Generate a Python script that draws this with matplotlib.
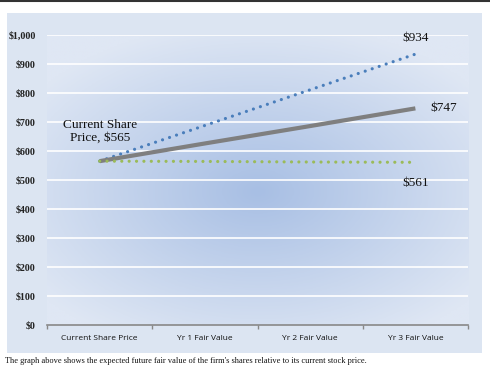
import numpy as np
import matplotlib
matplotlib.use("Agg")
import matplotlib.pyplot as plt
from matplotlib.colors import LinearSegmentedColormap
from matplotlib.patches import Rectangle
from matplotlib.lines import Line2D

# data
categories = ["Current Share Price", "Yr 1 Fair Value", "Yr 2 Fair Value", "Yr 3 Fair Value"]
high_case = [565, 688, 811, 934]
base_case = [565, 626, 686, 747]
low_case = [565, 564, 562, 561]
y_ticks = [0, 100, 200, 300, 400, 500, 600, 700, 800, 900, 1000]
y_labels = ["$0", "$100", "$200", "$300", "$400", "$500", "$600", "$700", "$800", "$900", "$1,000"]
caption = "The graph above shows the expected future fair value of the firm's shares relative to its current stock price."

W, H = 490, 369
fig = plt.figure(figsize=(W / 100, H / 100), dpi=100)
fig.patch.set_facecolor("white")

# outer chart box
fig.patches.append(Rectangle((7 / W, 1 - 353 / H), 475 / W, 340 / H,
                             transform=fig.transFigure, facecolor="#dce5f2",
                             edgecolor="none", zorder=-5))
# top border line
fig.lines.append(Line2D([0, 1], [1 - 1 / H, 1 - 1 / H], transform=fig.transFigure,
                        color="#333333", lw=1.5))

ax = fig.add_axes([47 / W, 1 - 325 / H, 421 / W, 290 / H])
ax.set_zorder(2)
ax.set_xlim(-0.5, 3.5)
ax.set_ylim(0, 1000)

# radial gradient background
gx, gy = np.meshgrid(np.linspace(-1, 1, 300), np.linspace(-1, 1, 200))
r = np.sqrt((gx * 1.0) ** 2 + ((gy + 0.08) * 1.1) ** 2)
r = np.clip(r / 1.3, 0, 1)
cmap = LinearSegmentedColormap.from_list("bg", ["#a8bfe4", "#dfe7f4"])
ax.imshow(r, cmap=cmap, extent=[-0.5, 3.5, 0, 1000], aspect="auto", zorder=0,
          origin="lower")

ax.set_facecolor("none")
for y in y_ticks[1:]:
    ax.axhline(y, color="white", lw=1.2, zorder=1)

x = np.arange(len(categories))
ax.plot(x, high_case, color="#4a7ebb", lw=2.3, linestyle=(0, (0.01, 2.3)),
        dash_capstyle="round", zorder=3)
ax.plot(x, base_case, color="#7f7f7f", lw=3.0, solid_capstyle="butt", zorder=3)
ax.plot(x, low_case, color="#9bbb59", lw=2.3, linestyle=(0, (0.01, 2.3)),
        dash_capstyle="round", zorder=3)

tfont = dict(family="Liberation Serif", size=9.5, color="#111111")
ax.text(0, 625, "Current Share\nPrice, $565", ha="center", va="bottom",
        linespacing=1.05, **tfont)
ax.text(3, 990, "$934", ha="center", va="center", **tfont)
ax.text(3.27, 747, "$747", ha="center", va="center", **tfont)
ax.text(3, 490, "$561", ha="center", va="center", **tfont)

ax.set_yticks(y_ticks)
ax.set_yticklabels(y_labels, family="Liberation Serif", fontsize=7.2,
                   fontweight="bold", color="#222222")
ax.tick_params(axis="y", length=0, pad=8)
ax.set_xticks(x)
ax.set_xticklabels(categories, family="Open Sans", fontsize=6, color="#111111")
ax.tick_params(axis="x", which="major", length=0, pad=7)
ax.set_xticks([-0.5, 0.5, 1.5, 2.5, 3.5], minor=True)
ax.tick_params(axis="x", which="minor", length=3, color="#888888", width=1)

for s in ["top", "right", "left"]:
    ax.spines[s].set_visible(False)
ax.spines["bottom"].set_color("#888888")
ax.spines["bottom"].set_linewidth(1.2)

fig.text(5 / W, 1 - 361 / H, caption, family="Liberation Serif", fontsize=6.0,
         ha="left", va="center", color="#111111")

fig.savefig("out.png", dpi=100)
